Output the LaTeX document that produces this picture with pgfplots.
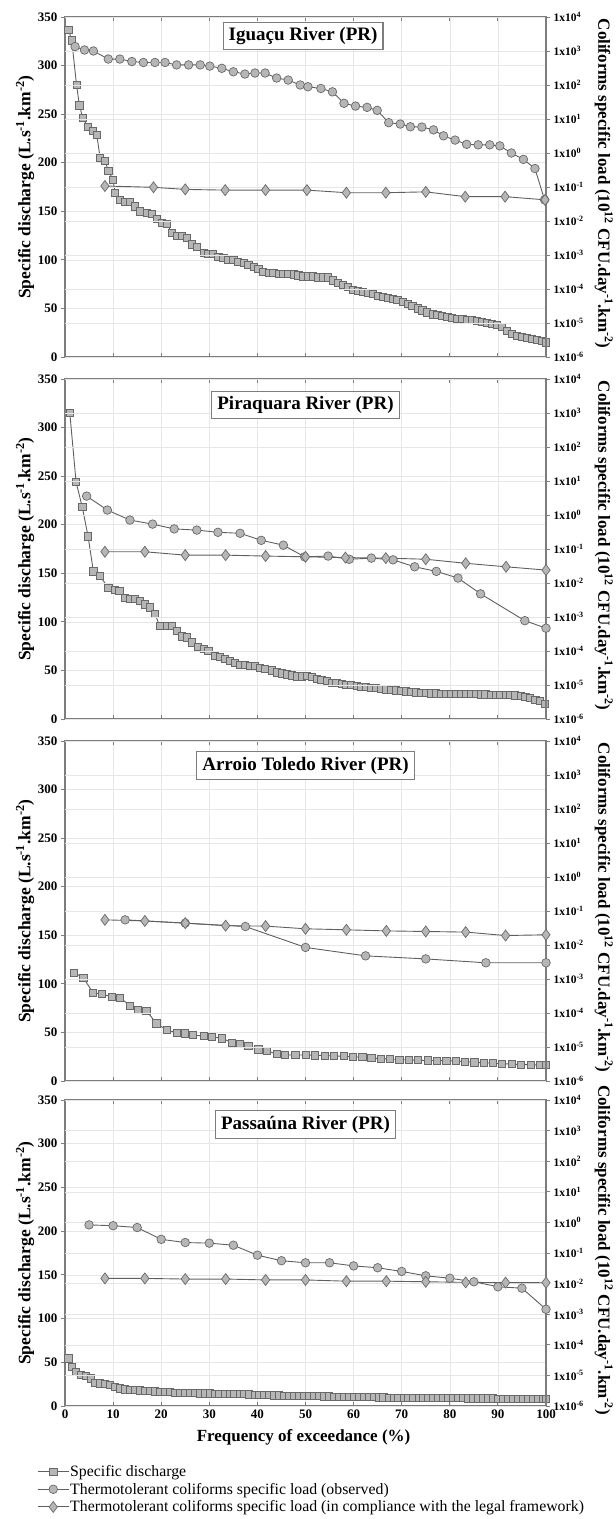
\documentclass[border=0pt]{standalone}
\usepackage{fontspec}
\setmainfont{Liberation Serif}
\usepackage{pgfplots}
\pgfplotsset{compat=1.18}

\definecolor{axgray}{RGB}{125,125,125}
\definecolor{lngray}{RGB}{95,95,95}
\definecolor{mkfill}{RGB}{182,182,182}
\definecolor{mkedge}{RGB}{105,105,105}
\definecolor{grd}{RGB}{230,230,230}

\newcommand{\fs}[1]{\fontsize{#1}{#1}\selectfont}
\pgfkeys{/pgf/number format/assume math mode=true}

\pgfplotsset{
  common/.style={
    scale only axis, width=481pt, xmin=0, xmax=100, clip=false,
    axis line style={axgray, line width=1.6pt},
    tick style={axgray, line width=0.9pt}, major tick length=4pt,
  },
  leftax/.style={common,
    ymin=0, ymax=350, xtick={0,10,...,100}, ytick={0,50,...,350},
    grid=major, major grid style={grd, line width=0.6pt},
    xtick align=inside, ytick align=outside, ytick pos=left,
    ticklabel style={font=\bfseries\fs{13}},
    every axis y label/.style={at={(axis description cs:-0.083,0.5)}, rotate=90, anchor=center, font=\bfseries\fs{17.5}},
    ylabel={Specific discharge (L.s\textsuperscript{-1}.km\textsuperscript{-2})},
  },
  rightax/.style={common,
    ymin=1e-6, ymax=1e4,
    axis x line=none, axis y line*=right, ytick align=outside,
    ytick={1e-6,1e-5,1e-4,1e-3,1e-2,1e-1,1,10,100,1000,10000},
    yminorticks=false, ymajorgrids=true, major grid style={grd, line width=0.6pt},
    yticklabel={\pgfmathtruncatemacro\myex{round(\tick)}1x10\textsuperscript{\myex}},
    yticklabel style={font=\bfseries\fs{11.5}},
    every axis y label/.style={at={(axis description cs:1.12,0.51)}, rotate=-90, anchor=center, font=\bfseries\fs{17}},
    ylabel={Coliforms specific load (10\textsuperscript{12} CFU.day\textsuperscript{-1}.km\textsuperscript{-2})},
  },
  sq/.style={color=lngray, line width=0.9pt, mark=square*, mark size=3.6pt,
    mark options={fill=mkfill, draw=mkedge, line width=0.7pt}},
  ci/.style={color=lngray, line width=0.9pt, mark=*, mark size=4.3pt,
    mark options={fill=mkfill, draw=mkedge, line width=0.7pt}},
  di/.style={color=lngray, line width=0.9pt, mark=diamond*, mark size=5.5pt,
    mark options={fill=mkfill, draw=mkedge, line width=0.7pt}},
}
\tikzset{tbox/.style={draw=axgray, line width=1.2pt, fill=white, inner xsep=5.5pt, inner ysep=5pt, font=\bfseries\fs{19}}}

\begin{document}
\begin{tikzpicture}
\useasboundingbox (0,0) rectangle (616pt,-1519pt);

% ---------- Iguacu ----------
\begin{axis}[leftax, at={(65pt,-357pt)}, anchor=south west, height=340pt, xticklabels={}]
\addplot[sq] coordinates {(0.7,337) (1.4,326) (2.4,280) (3.0,259) (3.7,246) (4.7,237) (5.8,233) (6.6,229) (7.3,205) (8.3,202) (9.0,192) (10.0,182) (10.4,169) (11.4,162) (12.5,160) (13.5,160) (14.6,155) (15.6,150) (17.0,148) (18.0,147) (19.1,142) (20.1,138) (21.2,137) (22.2,128) (23.2,125) (24.3,125) (25.3,123) (26.3,116) (27.4,113) (28.8,107) (29.8,106) (30.8,106) (31.9,103) (32.9,102) (33.9,100) (35.0,100) (36.0,98) (37.1,97) (38.1,95) (39.2,93) (40.2,91) (41.2,88) (42.3,87) (43.3,87) (44.4,86) (45.4,86) (46.4,86) (47.5,85) (48.5,84) (49.5,83) (50.5,83) (51.6,83) (52.6,82) (53.6,82) (54.7,82) (55.7,79) (56.8,76) (57.8,74) (58.8,72) (59.8,69) (60.9,68) (61.9,67) (62.9,66) (64.0,65) (65.0,63) (66.0,62) (67.1,61) (68.1,60) (69.1,59) (70.2,57) (71.2,55) (72.2,53) (73.3,50) (74.3,48) (75.3,46) (76.4,44) (77.4,43) (78.4,42) (79.5,41) (80.5,40) (81.5,39) (82.6,39) (83.6,38) (84.6,38) (85.7,37) (86.7,36) (87.7,35) (88.8,34) (89.8,33) (90.8,31) (91.9,27) (92.9,24) (93.9,22) (95.0,21) (96.0,20) (97.0,19) (98.1,18) (99.1,17) (100,15)};
\end{axis}
\begin{axis}[rightax, ymode=log, log basis y=10, at={(65pt,-357pt)}, anchor=south west, height=340pt]
\addplot[ci] coordinates {(2.1,1350) (4.05,1070) (5.9,1000) (9.0,580) (11.4,580) (13.9,490) (16.3,460) (18.7,460) (20.8,460) (23.2,390) (25.7,390) (28.1,390) (30.1,360) (32.6,310) (35.0,245) (37.4,210) (39.5,225) (41.6,225) (44.0,160) (46.4,140) (48.9,100) (50.5,89) (53.2,79) (55.6,63) (58.0,29) (60.4,24) (62.8,22) (64.9,18) (67.3,7.8) (69.7,7.1) (71.8,5.9) (74.2,5.8) (76.6,4.8) (78.7,3.2) (81.1,2.4) (83.5,1.8) (85.9,1.74) (88.3,1.74) (90.4,1.62) (92.8,1.0) (95.3,0.65) (97.7,0.35) (99.7,0.042)};
\addplot[di] coordinates {(8.3,0.107) (18.4,0.098) (25.0,0.085) (33.3,0.081) (41.7,0.081) (50.3,0.081) (58.5,0.068) (66.7,0.068) (75.0,0.072) (83.2,0.052) (91.5,0.052) (99.8,0.042)};
\node[tbox] at (rel axis cs:0.495,0.944) {Iguaçu River (PR)};
\end{axis}

% ---------- Piraquara ----------
\begin{axis}[leftax, at={(65pt,-719pt)}, anchor=south west, height=340pt, xticklabels={}]
\addplot[sq] coordinates {(1.0,315) (2.3,244) (3.6,218) (4.8,188) (5.9,152) (7.3,147) (9.0,135) (10.3,133) (11.3,132) (12.5,125) (13.5,124) (14.6,124) (15.6,122) (16.6,118) (17.7,115) (18.7,108) (19.7,96) (21.1,96) (22.2,96) (23.2,91) (24.3,85) (25.3,84) (26.3,79) (27.7,74) (28.8,72) (29.8,70) (31.2,65) (32.2,64) (33.3,62) (34.3,60) (35.3,58) (36.4,56) (37.4,56) (38.5,55) (39.5,55) (40.5,53) (41.6,52) (43.0,50) (44.0,48) (45.1,47) (46.1,46) (47.1,45) (48.2,44) (49.2,44) (50.3,44.4) (51.3,43) (52.3,41.5) (53.3,40.3) (54.4,39) (55.4,37.5) (56.4,36.9) (57.5,36) (58.5,35.3) (59.5,34.8) (60.6,34.2) (61.6,33.5) (62.6,33) (63.7,32.3) (64.7,31.8) (65.7,31.3) (66.8,30.6) (67.8,30) (68.8,29.5) (69.9,29) (70.9,28.4) (71.9,28) (73,27.5) (74,27) (75,26.6) (76.1,26.5) (77.1,26.4) (78.1,26.3) (79.2,26.2) (80.2,26.1) (81.2,26) (82.3,25.9) (83.3,25.8) (84.3,25.7) (85.4,25.6) (86.4,25.4) (87.4,25.3) (88.5,25.1) (89.5,25) (90.5,24.9) (91.6,24.8) (92.6,24.6) (93.6,24.3) (94.7,23.6) (95.7,22.6) (96.7,21.5) (97.8,20) (98.8,18.3) (99.8,16)};
\end{axis}
\begin{axis}[rightax, ymode=log, log basis y=10, at={(65pt,-719pt)}, anchor=south west, height=340pt]
\addplot[ci] coordinates {(4.5,3.6) (8.8,1.4) (13.5,0.71) (18.2,0.54) (22.7,0.39) (27.4,0.36) (31.8,0.31) (36.4,0.29) (40.8,0.18) (45.4,0.13) (49.8,0.059) (54.7,0.062) (59.1,0.05) (63.7,0.054) (68.2,0.048) (72.7,0.030) (77.2,0.022) (81.7,0.014) (86.4,0.0048) (95.6,0.00078) (100,0.00047)};
\addplot[di] coordinates {(8.3,0.083) (16.6,0.083) (25,0.066) (33.4,0.066) (41.7,0.062) (50,0.059) (58.3,0.056) (66.7,0.054) (75,0.050) (83.3,0.038) (91.7,0.030) (100,0.024)};
\node[tbox] at (rel axis cs:0.5,0.924) {Piraquara River (PR)};
\end{axis}

% ---------- Arroio Toledo ----------
\begin{axis}[leftax, at={(65pt,-1081pt)}, anchor=south west, height=340pt, xticklabels={}]
\addplot[sq] coordinates {(1.9,111.5) (3.8,106.4) (5.8,91) (7.6,89.5) (9.7,86.8) (11.4,86) (13.5,77.6) (15.2,73) (16.9,72.5) (19.0,59.4) (21.1,52.5) (23.2,49.8) (24.9,49) (26.6,47.4) (28.8,46.3) (30.5,45.6) (32.6,44) (34.7,39.5) (36.4,38) (38.1,36) (40.2,32.6) (41.9,31.2) (44.0,27.8) (45.7,26.8) (47.9,26.8) (50,26.8) (52,26.5) (54,26.2) (55.9,25.8) (57.9,25.5) (59.8,25) (61.8,24.5) (63.7,23.6) (65.6,23) (67.6,22.6) (69.5,22.2) (71.5,21.6) (73.4,21.4) (75.4,21.2) (77.3,21.1) (79.3,21) (81.2,20.6) (83.2,20) (85.1,19.2) (87,18.8) (89,18.3) (90.9,17.8) (92.9,17.4) (94.8,17) (96.8,16.8) (98.7,16.6) (100,16.5)};
\end{axis}
\begin{axis}[rightax, ymode=log, log basis y=10, at={(65pt,-1081pt)}, anchor=south west, height=340pt]
\addplot[ci] coordinates {(12.5,0.055) (25,0.044) (37.5,0.035) (50,0.0085) (62.5,0.0048) (75,0.0039) (87.5,0.0030) (100,0.0030)};
\addplot[di] coordinates {(8.3,0.055) (16.6,0.051) (25,0.044) (33.4,0.037) (41.7,0.036) (50,0.030) (58.5,0.028) (66.8,0.026) (75,0.025) (83.3,0.024) (91.6,0.019) (100,0.020)};
\node[tbox] at (rel axis cs:0.5,0.928) {Arroio Toledo River (PR)};
\end{axis}

% ---------- Passauna ----------
\begin{axis}[leftax, at={(65pt,-1406pt)}, anchor=south west, height=306pt,
  every axis x label/.style={at={(axis description cs:0.496,-0.101)}, anchor=center, font=\bfseries\fs{17}},
  xlabel={Frequency of exceedance (\%)}]
\addplot[sq] coordinates {(0.7,54.5) (1.5,45) (2.3,39.3) (3.3,35.5) (4.3,34.3) (5.3,31.7) (6.3,26.7) (7.3,26) (8.3,25.2) (9.4,24) (10.4,22.2) (11.4,20.3) (12.5,19.1) (13.5,18.7) (14.5,18.3) (15.6,18) (16.6,17.6) (17.6,17.2) (18.7,16.8) (19.7,16.4) (20.8,16) (21.8,15.8) (22.8,15.5) (23.9,15.3) (24.9,15.1) (25.9,15) (27,14.8) (28,14.6) (29,14.5) (30.1,14.4) (31.1,14.3) (32.1,14.2) (33.2,14) (34.2,13.9) (35.2,13.8) (36.3,13.6) (37.3,13.5) (38.3,13.3) (39.4,13.1) (40.4,12.9) (41.4,12.7) (42.5,12.5) (43.5,12.3) (44.5,12.1) (45.6,12) (46.6,11.9) (47.6,11.7) (48.7,11.6) (49.7,11.5) (50.7,11.4) (51.8,11.3) (52.8,11.2) (53.8,11.1) (54.9,11.0) (55.9,10.9) (56.9,10.8) (58,10.7) (59,10.6) (60,10.5) (61.1,10.4) (62.1,10.3) (63.1,10.2) (64.2,10.1) (65.2,10) (66.2,9.9) (67.3,9.8) (68.3,9.7) (69.3,9.6) (70.4,9.5) (71.4,9.5) (72.4,9.4) (73.5,9.3) (74.5,9.3) (75.5,9.2) (76.6,9.2) (77.6,9.1) (78.6,9.1) (79.7,9.0) (80.7,9.0) (81.7,8.9) (82.8,8.9) (83.8,8.8) (84.8,8.8) (85.9,8.8) (86.9,8.7) (87.9,8.7) (89,8.7) (90,8.6) (91,8.6) (92.1,8.6) (93.1,8.5) (94.1,8.5) (95.2,8.5) (96.2,8.4) (97.2,8.4) (98.3,8.3) (99.3,8.2) (100,8.0)};
\end{axis}
\begin{axis}[rightax, ymode=log, log basis y=10, at={(65pt,-1406pt)}, anchor=south west, height=306pt,
  legend style={at={(axis description cs:-0.058,-0.19)}, anchor=north west, draw=none, fill=none,
    font=\fs{15.8}, row sep=3pt, inner sep=0pt, nodes={inner sep=1pt},
    /tikz/every even column/.append style={column sep=4pt}},
  legend cell align=left,
  legend image code/.code={\draw[mark repeat=2,mark phase=2,#1] plot coordinates {(0pt,0pt) (15.5pt,0pt) (31pt,0pt)};}]
\addlegendimage{sq}
\addlegendentry{Specific discharge}
\addplot[ci] coordinates {(5,0.83) (10,0.78) (15,0.68) (20,0.28) (25,0.22) (30,0.21) (35,0.18) (40,0.085) (45,0.056) (50,0.048) (55,0.048) (60,0.038) (65,0.033) (70,0.025) (75,0.018) (80,0.015) (85,0.0115) (90,0.0079) (95,0.0071) (100,0.00145)};
\addlegendentry{Thermotolerant coliforms specific load (observed)}
\addplot[di] coordinates {(8.3,0.0148) (16.6,0.0148) (25,0.0141) (33.4,0.0141) (41.7,0.0132) (50,0.0132) (58.5,0.012) (66.8,0.012) (75,0.0115) (83.3,0.011) (91.6,0.0108) (100,0.0107)};
\addlegendentry{Thermotolerant coliforms specific load (in compliance with the legal framework)}
\node[tbox] at (rel axis cs:0.5,0.92) {Passaúna River (PR)};
\end{axis}
\end{tikzpicture}
\end{document}
